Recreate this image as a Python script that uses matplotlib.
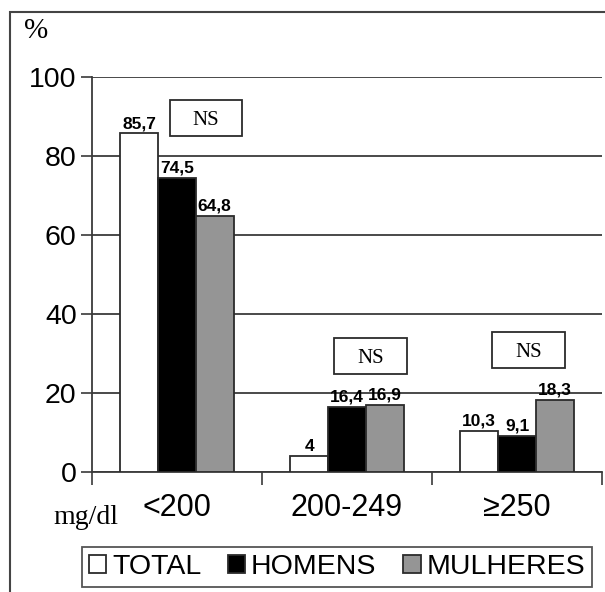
import numpy as np
import matplotlib
matplotlib.use("Agg")
import matplotlib.pyplot as plt
from matplotlib.patches import Rectangle

plt.rcParams['font.family'] = ['Liberation Sans', 'DejaVu Sans']

# data
categories = ['<200', '200-249', '≥250']
series_names = ['TOTAL', 'HOMENS', 'MULHERES']
total = [85.7, 4, 10.3]
homens = [74.5, 16.4, 9.1]
mulheres = [64.8, 16.9, 18.3]
y_ticks = [0, 20, 40, 60, 80, 100]
ns_labels = ['NS', 'NS', 'NS']

series = [total, homens, mulheres]
fills = ['white', 'black', '#959595']
edge = '#2b2b2b'
grid_col = '#3a3a3a'


def fmt(v):
    s = ('%g' % v)
    return s.replace('.', ',')


fig = plt.figure(figsize=(6.05, 5.92), dpi=100)
ax = fig.add_axes([92 / 605, 120 / 592, 510 / 605, 395 / 592])

x = np.arange(len(categories))
width = 0.222
bars = []
for i, (vals, col, name) in enumerate(zip(series, fills, series_names)):
    b = ax.bar(x + (i - 1) * width, vals, width, color=col, edgecolor=edge,
               linewidth=1.3, label=name, zorder=3)
    bars.append(b)
    for rect, v in zip(b, vals):
        ax.text(rect.get_x() + rect.get_width() / 2, v + 0.6, fmt(v),
                ha='center', va='bottom', fontsize=12.5, fontweight='bold',
                zorder=4)

ax.set_xlim(-0.5, 2.5)
ax.set_ylim(0, 100)
ax.set_yticks(y_ticks)
ax.set_yticklabels([str(t) for t in y_ticks], fontsize=20.5)
ax.tick_params(axis='y', direction='out', length=8, width=1.2, color=grid_col, pad=3)
ax.yaxis.grid(True, color=grid_col, linewidth=1.3, zorder=0)
ax.set_axisbelow(True)

ax.set_xticks(x)
ax.set_xticklabels(categories, fontsize=22)
ax.tick_params(axis='x', which='major', length=0, pad=15)
ax.set_xticks([-0.5, 0.5, 1.5, 2.5], minor=True)
ax.tick_params(axis='x', which='minor', direction='out', length=9, width=1.2, color=grid_col)

for s in ['top', 'right']:
    ax.spines[s].set_visible(False)
for s in ['left', 'bottom']:
    ax.spines[s].set_color(grid_col)
    ax.spines[s].set_linewidth(1.3)

# NS boxes above each group
ns_boxes = [(-0.041, 85.1, 0.423, 9.1), (0.924, 24.8, 0.429, 9.1), (1.853, 26.3, 0.429, 9.1)]
for (bx, by, bw, bh), lab in zip(ns_boxes, ns_labels):
    ax.add_patch(Rectangle((bx, by), bw, bh, facecolor='white', edgecolor=edge,
                           linewidth=1.3, zorder=5, clip_on=False))
    ax.text(bx + bw / 2, by + bh / 2 - 0.6, lab, ha='center', va='center',
            fontsize=15, family='Liberation Serif', zorder=6)

# axis captions
fig.text(36 / 605, 1 - 31 / 592, '%', ha='center', va='center',
         fontsize=21, family='Liberation Serif')
fig.text(86 / 605, 1 - 518 / 592, 'mg/dl', ha='center', va='center',
         fontsize=20, family='Liberation Serif')

leg = fig.legend(handles=bars, labels=series_names, loc='center',
                 bbox_to_anchor=(337 / 605, 25 / 592), ncol=3, fontsize=20.5,
                 frameon=True, fancybox=False, handlelength=0.6, handleheight=0.6,
                 handletextpad=0.2, columnspacing=0.95, borderpad=0.25,
                 borderaxespad=0)
leg.get_frame().set_edgecolor(edge)
leg.get_frame().set_linewidth(1.3)

# outer border of the original figure
fig.add_artist(Rectangle((10 / 605, -0.1), 1.0, 1.1 - 12 / 592, transform=fig.transFigure,
                         facecolor='none', edgecolor='#444444', linewidth=1.5))

fig.savefig('out.png', dpi=100)
